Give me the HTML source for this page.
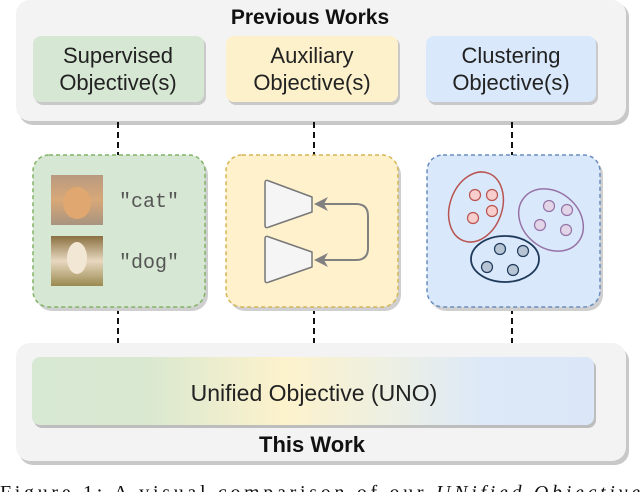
<!DOCTYPE html>
<html><head><meta charset="utf-8"><style>
body{margin:0;background:#fff;width:640px;height:492px;overflow:hidden}
svg{display:block}
text{font-family:"Liberation Sans",sans-serif}
</style></head><body>
<svg width="640" height="492" viewBox="0 0 640 492" xmlns="http://www.w3.org/2000/svg">
<defs>
<linearGradient id="g" x1="0" x2="1">
<stop offset="0" stop-color="#d7e8d3"/><stop offset="0.2" stop-color="#d9e8d0"/>
<stop offset="0.45" stop-color="#fdf2cc"/><stop offset="0.62" stop-color="#eef0e0"/>
<stop offset="0.8" stop-color="#dde9f8"/><stop offset="1" stop-color="#dbe7f8"/>
</linearGradient>
<linearGradient id="cat" x1="0" y1="0" x2="0" y2="1"><stop offset="0" stop-color="#b89a80"/><stop offset="0.5" stop-color="#d8a878"/><stop offset="1" stop-color="#a89480"/></linearGradient>
<linearGradient id="dog" x1="0" y1="0" x2="0" y2="1"><stop offset="0" stop-color="#8a7040"/><stop offset="0.5" stop-color="#e8d8c0"/><stop offset="1" stop-color="#9a8a50"/></linearGradient>
</defs>
<rect x="19" y="3" width="610" height="122" rx="14" fill="#c8c8c8"/>
<rect x="16" y="0" width="610" height="121" rx="14" fill="#f3f3f3"/>
<text x="310" y="24" font-size="21" font-weight="bold" text-anchor="middle" fill="#111">Previous Works</text>
<rect x="35" y="38" width="171" height="67" rx="8" fill="#c9c9c9"/>
<rect x="33" y="36" width="171" height="66" rx="8" fill="#d6e8d3"/>
<rect x="228" y="38" width="172" height="67" rx="8" fill="#c9c9c9"/>
<rect x="226" y="36" width="172" height="66" rx="8" fill="#fdf1cc"/>
<rect x="428" y="38" width="170" height="67" rx="8" fill="#c9c9c9"/>
<rect x="426" y="36" width="170" height="66" rx="8" fill="#dae8fb"/>
<g font-size="22" text-anchor="middle" fill="#222">
<text x="118" y="63">Supervised</text><text x="118" y="90">Objective(s)</text>
<text x="312" y="63">Auxiliary</text><text x="312" y="90">Objective(s)</text>
<text x="511" y="63">Clustering</text><text x="511" y="90">Objective(s)</text>
</g>
<g stroke="#111" stroke-width="2" stroke-dasharray="6,4">
<line x1="118" y1="122" x2="118" y2="156"/><line x1="314" y1="122" x2="314" y2="156"/><line x1="512" y1="122" x2="512" y2="156"/>
<line x1="118" y1="308" x2="118" y2="356"/><line x1="314" y1="308" x2="314" y2="356"/><line x1="512" y1="308" x2="512" y2="356"/>
</g>
<rect x="36" y="159" width="172" height="152" rx="16" fill="#cfcfcf"/>
<rect x="33" y="155" width="172" height="152" rx="16" fill="#d6e8d3" stroke="#82b366" stroke-width="1.5" stroke-dasharray="4,3"/>
<rect x="229" y="159" width="172" height="152" rx="16" fill="#cfcfcf"/>
<rect x="226" y="155" width="172" height="152" rx="16" fill="#fff1cc" stroke="#d6b656" stroke-width="1.5" stroke-dasharray="4,3"/>
<rect x="430" y="159" width="173" height="152" rx="16" fill="#cfcfcf"/>
<rect x="427" y="155" width="173" height="152" rx="16" fill="#dae8fc" stroke="#6c8ebf" stroke-width="1.5" stroke-dasharray="4,3"/>
<rect x="51" y="175" width="52" height="50" fill="url(#cat)"/>
<ellipse cx="77" cy="203" rx="14" ry="16" fill="#e0a870"/>
<rect x="51" y="236" width="52" height="50" fill="url(#dog)"/>
<ellipse cx="77" cy="258" rx="10" ry="16" fill="#f2e6d4"/>
<g font-size="20" fill="#555">
<text x="119" y="207" style="font-family:'Liberation Mono',monospace">"cat"</text>
<text x="119" y="268" style="font-family:'Liberation Mono',monospace">"dog"</text>
</g>
<g fill="#f5f5f5" stroke="#777" stroke-width="1.5" stroke-linejoin="round">
<path d="M265,183 Q265,179 269,181 L312,197 V212 L269,227 Q265,229 265,225z"/>
<path d="M265,239 Q265,235 269,237 L312,252 V267 L269,282 Q265,284 265,280z"/>
</g>
<path d="M322,204 H356 Q368,204 368,216 V248 Q368,260 356,260 H322" fill="none" stroke="#808080" stroke-width="2"/>
<polygon points="314,204 328,197 324,204 328,211" fill="#808080"/>
<polygon points="314,260 328,253 324,260 328,267" fill="#808080"/>
<ellipse cx="476" cy="207" rx="26" ry="36" transform="rotate(20 476 207)" fill="none" stroke="#b85450" stroke-width="1.5"/>
<g fill="#f8cecc" stroke="#b85450" stroke-width="1.2">
<circle cx="475" cy="195" r="5.5"/><circle cx="492" cy="195" r="5.5"/><circle cx="492" cy="211" r="5.5"/><circle cx="473" cy="218" r="5.5"/></g>
<ellipse cx="551" cy="220" rx="28" ry="35" transform="rotate(-50 551 220)" fill="none" stroke="#9673a6" stroke-width="1.5"/>
<g fill="#e1d5e7" stroke="#9673a6" stroke-width="1.2">
<circle cx="549" cy="206" r="5.5"/><circle cx="567" cy="210" r="5.5"/><circle cx="540" cy="225" r="5.5"/><circle cx="566" cy="230" r="5.5"/></g>
<ellipse cx="505" cy="259" rx="34" ry="23" fill="none" stroke="#1e3a5a" stroke-width="1.8"/>
<g fill="#b7c4d4" stroke="#1e3a5a" stroke-width="1.2">
<circle cx="500" cy="249" r="5.5"/><circle cx="523" cy="251" r="5.5"/><circle cx="487" cy="267" r="5.5"/><circle cx="513" cy="270" r="5.5"/></g>
<rect x="19" y="347" width="610" height="118" rx="14" fill="#c8c8c8"/>
<rect x="16" y="343" width="610" height="118" rx="14" fill="#f3f3f3"/>
<rect x="34" y="360" width="562" height="68" rx="8" fill="#bdbdbd"/>
<rect x="32" y="357" width="562" height="68" rx="8" fill="url(#g)"/>
<text x="314" y="401" font-size="23" text-anchor="middle" fill="#222">Unified Objective (UNO)</text>
<text x="312" y="452" font-size="22" font-weight="bold" text-anchor="middle" fill="#111">This Work</text>
<text x="0" y="499" font-size="20" fill="#111" style="font-family:'Liberation Serif',serif" textLength="640">Figure 1: A visual comparison of our <tspan font-style="italic">UNified Objective</tspan></text>
</svg>
</body></html>
